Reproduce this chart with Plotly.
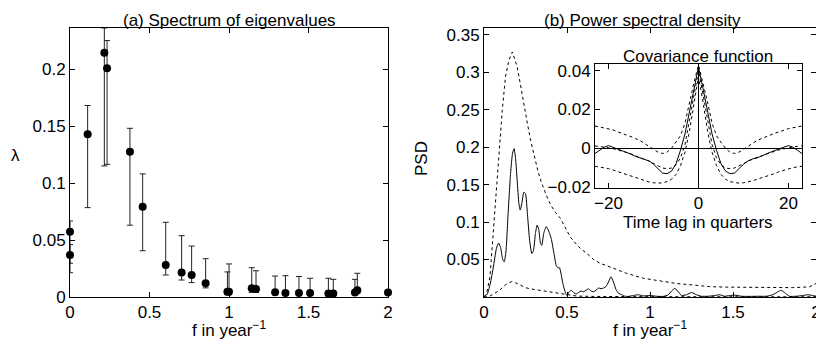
import plotly.graph_objects as go

W, H = 824, 339
OFF = 8  # default page body margin in the browser

# ---------- (a) eigenvalue spectrum ----------
eig_f = [0.0, 0.0, 0.111, 0.216, 0.233, 0.377, 0.457, 0.602, 0.702, 0.765, 0.853,
         0.99, 1.0, 1.143, 1.17, 1.29, 1.355, 1.44, 1.51, 1.625, 1.656, 1.792, 1.807, 2.0]
eig_val = [0.0573, 0.0368, 0.1427, 0.2143, 0.2006, 0.1275, 0.0792, 0.028, 0.0216, 0.0193, 0.012,
           0.0047, 0.0047, 0.0076, 0.007, 0.0041, 0.0035, 0.0035, 0.0035, 0.003, 0.003, 0.004, 0.006, 0.004]
eig_hi = [0.0667, 0.046, 0.168, 0.236, 0.225, 0.148, 0.108, 0.0655, 0.0538, 0.0447, 0.0336,
          0.022, 0.029, 0.0257, 0.023, 0.0184, 0.0187, 0.018, 0.0164, 0.0164, 0.0155, 0.0155, 0.0208, 0.004]
eig_lo = [0.0296, 0.0213, 0.0784, 0.115, 0.1164, 0.063, 0.0406, 0.0193, 0.0149, 0.0126, 0.008,
          0.002, 0.002, 0.004, 0.004, 0.002, 0.002, 0.002, 0.002, 0.002, 0.002, 0.002, 0.003, 0.004]

# ---------- (b) power spectral density ----------
psd_f = [0, 0.02, 0.04, 0.06, 0.075, 0.088, 0.1, 0.113, 0.122, 0.132, 0.145, 0.16, 0.172, 0.181,
         0.19, 0.2, 0.21, 0.218, 0.228, 0.24, 0.25, 0.262, 0.275, 0.288, 0.298, 0.31, 0.32, 0.33,
         0.34, 0.348, 0.36, 0.375, 0.39, 0.405, 0.42, 0.435, 0.445, 0.455, 0.465, 0.475, 0.49, 0.5,
         0.51, 0.525, 0.54, 0.555, 0.57, 0.585, 0.6, 0.615, 0.63, 0.645, 0.66, 0.675, 0.69, 0.705,
         0.72, 0.735, 0.75, 0.765, 0.78, 0.795, 0.81, 0.83, 0.85, 0.87, 0.9, 0.93, 0.96, 1.0, 1.04,
         1.08, 1.11, 1.13, 1.15, 1.17, 1.19, 1.22, 1.25, 1.28, 1.31, 1.35, 1.39, 1.42, 1.45, 1.48,
         1.51, 1.55, 1.6, 1.65, 1.7, 1.74, 1.77, 1.79, 1.81, 1.84, 1.88, 1.92, 1.95, 1.98, 2.0]
psd_val = [0, 0.004, 0.02, 0.045, 0.065, 0.072, 0.066, 0.05, 0.047, 0.06, 0.11, 0.165, 0.192, 0.198,
           0.185, 0.155, 0.125, 0.116, 0.125, 0.14, 0.138, 0.11, 0.075, 0.058, 0.062, 0.085, 0.096, 0.09,
           0.072, 0.069, 0.085, 0.094, 0.088, 0.078, 0.06, 0.042, 0.039, 0.039, 0.03, 0.018, 0.006, 0.002,
           0.006, 0.009, 0.006, 0.004, 0.006, 0.008, 0.007, 0.009, 0.011, 0.008, 0.007, 0.009, 0.012, 0.011,
           0.012, 0.014, 0.02, 0.027, 0.02, 0.01, 0.005, 0.003, 0.001, 0.0008, 0.002, 0.003, 0.0015, 0.002, 0.001,
           0.0008, 0.003, 0.008, 0.0115, 0.007, 0.002, 0.003, 0.006, 0.003, 0.001, 0.001, 0.002, 0.003, 0.001, 0.002,
           0.0025, 0.001, 0.0008, 0.001, 0.001, 0.003, 0.007, 0.009, 0.006, 0.001, 0.001, 0.002, 0.003, 0.002, 0.001]

upper_f = [0, 0.016, 0.036, 0.056, 0.076, 0.093, 0.11, 0.13, 0.15, 0.171, 0.185, 0.2, 0.22, 0.241,
           0.261, 0.281, 0.301, 0.325, 0.347, 0.37, 0.39, 0.41, 0.43, 0.46, 0.49, 0.52, 0.55, 0.58,
           0.62, 0.66, 0.7, 0.76, 0.86, 0.96, 1.06, 1.16, 1.26, 1.36, 1.46, 1.56, 1.66, 1.76, 1.86, 1.96, 2.0]
upper_val = [0.0, 0.005, 0.027, 0.085, 0.152, 0.196, 0.249, 0.295, 0.316, 0.327, 0.318, 0.307, 0.283, 0.254,
             0.232, 0.209, 0.19, 0.168, 0.152, 0.138, 0.128, 0.12, 0.113, 0.105, 0.092, 0.08, 0.072, 0.065,
             0.058, 0.05, 0.045, 0.04, 0.0315, 0.025, 0.021, 0.018, 0.016, 0.0138, 0.0132, 0.013, 0.0125,
             0.012, 0.0125, 0.0135, 0.018]

lower_f = [0, 0.03, 0.056, 0.076, 0.095, 0.116, 0.14, 0.167, 0.19, 0.217, 0.25, 0.277, 0.32, 0.357,
           0.4, 0.458, 0.5, 0.56, 0.65, 0.8, 1.0, 1.5, 2.0]
lower_val = [0, 0.0005, 0.004, 0.006, 0.009, 0.0138, 0.018, 0.0205, 0.019, 0.016, 0.0125, 0.011, 0.0095,
             0.0082, 0.007, 0.005, 0.003, 0.0012, 0.0008, 0.0005, 0.0004, 0.0003, 0.0003]

# ---------- inset: covariance function (lags 0..23, symmetric) ----------
lag_half = list(range(0, 24))
cov_half = [0.042, 0.031, 0.019, 0.0075, -0.001, -0.008, -0.0118, -0.0131, -0.0128, -0.0105, -0.0082,
            -0.0065, -0.0055, -0.005, -0.0042, -0.003, -0.002, -0.001, -0.0002, 0.0006, 0.0014, 0.0005,
            -0.001, -0.0027]
cov_up_half = [0.043, 0.034, 0.024, 0.013, 0.0065, 0.003, 0.0, -0.002, -0.0027, -0.002, -0.0005, 0.001,
               0.0025, 0.004, 0.005, 0.006, 0.007, 0.0078, 0.0085, 0.0095, 0.0102, 0.0106, 0.011, 0.0115]
cov_mid_half = [0.040, 0.028, 0.014, 0.002, -0.005, -0.0085, -0.0102, -0.0105, -0.0102, -0.009, -0.0078,
                -0.0066, -0.0056, -0.0047, -0.0038, -0.003, -0.0022, -0.0015, -0.0008, -0.0002, 0.0003,
                0.0007, 0.001, 0.0012]
cov_lo_half = [0.037, 0.024, 0.009, -0.002, -0.009, -0.0135, -0.016, -0.0172, -0.0178, -0.018, -0.0178,
               -0.0174, -0.0168, -0.016, -0.0153, -0.0145, -0.0137, -0.013, -0.012, -0.0112, -0.0105,
               -0.01, -0.0096, -0.0093]


def mirror(half):
    return half[:0:-1] + half


lags = [-l for l in lag_half[:0:-1]] + lag_half

FONT = "Liberation Sans, Arial, Helvetica, sans-serif"
FS = 17


def px_x(x):
    return (x - OFF) / W


def px_y(y):
    return 1 - (y - OFF) / H


fig = go.Figure()

fig.add_trace(go.Scatter(
    x=eig_f, y=eig_val, mode="markers", xaxis="x", yaxis="y",
    marker=dict(color="black", size=8),
    error_y=dict(type="data", symmetric=False,
                 array=[h - v for h, v in zip(eig_hi, eig_val)],
                 arrayminus=[v - l for l, v in zip(eig_lo, eig_val)],
                 color="#222222", thickness=1, width=3),
    cliponaxis=False, showlegend=False))

dash = "3px,3px"
fig.add_trace(go.Scatter(x=upper_f, y=upper_val, mode="lines", xaxis="x2", yaxis="y2",
                         line=dict(color="black", width=1, dash=dash), showlegend=False))
fig.add_trace(go.Scatter(x=lower_f, y=lower_val, mode="lines", xaxis="x2", yaxis="y2",
                         line=dict(color="black", width=1, dash=dash), showlegend=False))
fig.add_trace(go.Scatter(x=psd_f, y=psd_val, mode="lines", xaxis="x2", yaxis="y2",
                         line=dict(color="black", width=1, shape="spline", smoothing=0.5),
                         showlegend=False))

for arr in (cov_up_half, cov_mid_half, cov_lo_half):
    fig.add_trace(go.Scatter(x=lags, y=mirror(arr), mode="lines", xaxis="x3", yaxis="y3",
                             line=dict(color="black", width=1, dash=dash), showlegend=False))
fig.add_trace(go.Scatter(x=lags, y=mirror(cov_half), mode="lines", xaxis="x3", yaxis="y3",
                         line=dict(color="black", width=1), showlegend=False))

axis_common = dict(showline=True, linecolor="black", linewidth=1, mirror="ticks", ticks="inside",
                   ticklen=5, tickcolor="black", showgrid=False, zeroline=False, automargin=False,
                   ticklabeloverflow="allow",
                   tickfont=dict(family=FONT, size=FS, color="black"))

fig.update_layout(
    width=W, height=H, margin=dict(l=0, r=0, t=0, b=0, autoexpand=False),
    paper_bgcolor="white", plot_bgcolor="white",
    font=dict(family=FONT, size=FS, color="black"),
    xaxis=dict(domain=[px_x(70), px_x(388)], range=[0, 2], tickvals=[0, 0.5, 1, 1.5, 2],
               ticktext=["0", "0.5", "1", "1.5", "2"], anchor="y", **axis_common),
    yaxis=dict(domain=[px_y(297), px_y(28)], range=[0, 0.236],
               tickvals=[0, 0.05, 0.1, 0.15, 0.2], ticktext=["0", "0.05", "0.1", "0.15", "0.2"],
               anchor="x", **axis_common),
    xaxis2=dict(domain=[px_x(484), px_x(816)], range=[0, 2], tickvals=[0, 0.5, 1, 1.5, 2],
                ticktext=["0", "0.5", "1", "1.5", "2"], anchor="y2", **axis_common),
    yaxis2=dict(domain=[px_y(297), px_y(28)], range=[0, 0.359],
                tickvals=[0.05, 0.1, 0.15, 0.2, 0.25, 0.3, 0.35],
                ticktext=["0.05", "0.1", "0.15", "0.2", "0.25", "0.3", "0.35"],
                anchor="x2", **axis_common),
    xaxis3=dict(domain=[px_x(595), px_x(802)], range=[-23, 23], tickvals=[-20, 0, 20],
                ticktext=["\u221220", "0", "20"], anchor="y3",
                **{**axis_common, "zeroline": True, "zerolinecolor": "black", "zerolinewidth": 1}),
    yaxis3=dict(domain=[px_y(188), px_y(64)], range=[-0.0205, 0.0435],
                tickvals=[-0.02, 0, 0.02, 0.04], ticktext=["\u22120.02", "0", "0.02", "0.04"],
                anchor="x3",
                **{**axis_common, "zeroline": True, "zerolinecolor": "black", "zerolinewidth": 1}),
)

ann = [
    ("(a) Spectrum of eigenvalues", 229.5, 20, 0),
    ("(b) Power spectral density", 642, 20, 0),
    ("Covariance function", 697.5, 56, 0),
    ("Time lag in quarters", 698, 222, 0),
    ("f in year<sup>\u22121</sup>", 229, 329, 0),
    ("f in year<sup>\u22121</sup>", 650, 329, 0),
    ("\u03bb", 16, 155, 0),
    ("PSD", 422, 159, -90),
]
for text, x, y, ang in ann:
    fig.add_annotation(text=text, x=px_x(x), y=px_y(y), xref="paper", yref="paper",
                       showarrow=False, xanchor="center", yanchor="middle", textangle=ang,
                       font=dict(family=FONT, size=FS, color="black"))

fig.write_html("out.html")
